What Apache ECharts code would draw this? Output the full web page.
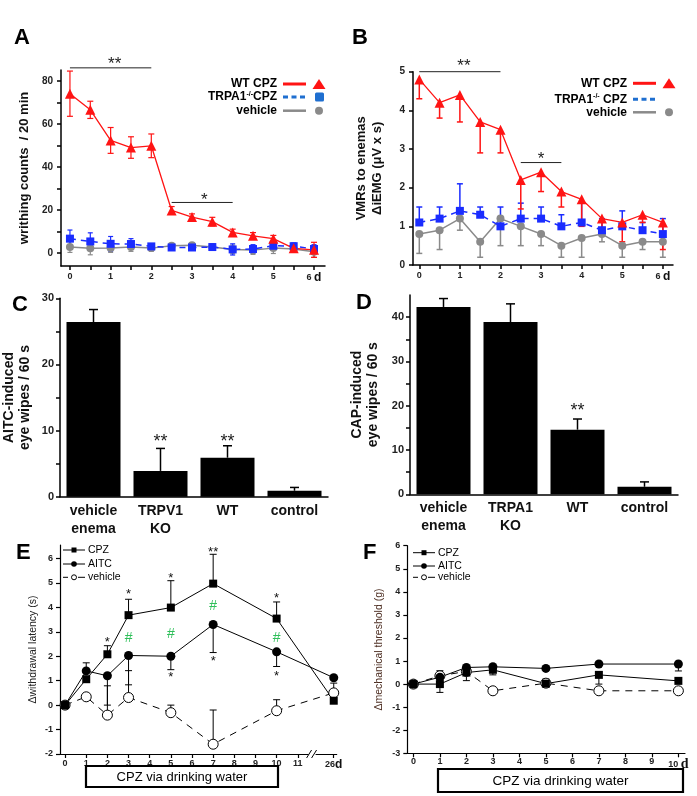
<!DOCTYPE html>
<html><head><meta charset="utf-8">
<script src="https://cdn.jsdelivr.net/npm/echarts@6/dist/echarts.min.js"></script>
<style>html,body{margin:0;padding:0;background:#fff}#c{width:697px;height:796px}</style>
</head><body><div id="c"></div>
<script>
// ---------- DATA ----------
// Panel A: writhing counts / 20 min
const A_days = [0,0.5,1,1.5,2,2.5,3,3.5,4,4.5,5,5.5,6];
const A_wt = [74,66.5,52.3,49,49.8,19.8,16.7,14.6,9.6,8,6.7,2.2,1.5];
const A_wt_err = [10.5,4,6,5,5.5,1.8,1.5,2,1.5,1.5,1.5,1.5,3.5];
const A_trp = [6.7,5.4,4.3,4.2,3.1,2.6,2.6,2.8,1.7,1.9,3.4,3.2,1.9];
const A_trp_err = [4,4,3.4,2.5,1,1,1,1,2.6,2,2,1.5,2];
const A_veh = [2.8,2.2,2.3,2.8,2.3,3.4,3.6,2.8,1.7,1.4,2.3,1.9,0.6];
const A_veh_err = [2.5,3,2,2,1.5,1,1,1,2,2,2.5,1.5,2.5];
const A_yLabels = [0,20,40,60,80];
const A_yTicks = [0,10,20,30,40,50,60,70,80];
const A_xLabels = [0,1,2,3,4,5,6];
const A_sigBars = [[0,2,86],[2.5,4,23.5]];
const A_sigText = [[1.1,89.5,'**'],[3.3,26.3,'*']];

// Panel B: VMRs to enemas
const B_days = [0,0.5,1,1.5,2,2.5,3,3.5,4,4.5,5,5.5,6];
const B_wt = [4.8,4.2,4.4,3.7,3.5,2.2,2.4,1.9,1.7,1.2,1.1,1.3,1.1];
const B_wt_errLo = [0.5,0.4,0.7,0.8,0.6,0.75,0.5,0.4,0.7,0.4,0.5,0.2,0.7];
const B_trp = [1.1,1.2,1.4,1.3,1.0,1.2,1.2,1.0,1.1,0.9,1.0,0.9,0.8];
const B_trp_errHi = [0.4,0.3,0.7,0.2,0.5,0.4,0.3,0.3,0.5,0.3,0.4,0.2,0.4];
const B_veh = [0.8,0.9,1.2,0.6,1.2,1.0,0.8,0.5,0.7,0.8,0.5,0.6,0.6];
const B_veh_errLo = [0.5,0.5,0.3,0.4,0.7,0.5,0.3,0.3,0.5,0.2,0.3,0.2,0.4];
const B_yLabels = [0,1,2,3,4,5];
const B_xLabels = [0,1,2,3,4,5,6];
const B_sigBars = [[0,2,5.0],[2.5,3.5,2.65]];
const B_sigText = [[1.1,5.23,'**'],[3.0,2.84,'*']];

// Panel C: AITC-induced eye wipes
const C_cats = ['vehicle\nenema','TRPV1\nKO','WT','control'];
const C_vals = [26.4,3.9,5.9,0.9];
const C_err = [1.9,3.4,1.8,0.5];
const C_yLabels = [0,10,20,30];
const C_yTicks = [0,5,10,15,20,25,30];
const C_sigText = [[1,8.8,'**'],[2,8.8,'**']];

// Panel D: CAP-induced eye wipes
const D_cats = ['vehicle\nenema','TRPA1\nKO','WT','control'];
const D_vals = [42.3,38.9,14.6,1.7];
const D_err = [1.9,4.1,2.4,1.1];
const D_yLabels = [0,10,20,30,40];
const D_yTicks = [0,5,10,15,20,25,30,35,40];
const D_sigText = [[2,19.7,'**']];

// Panel E: withdrawal latency
const E_days = [0,1,2,3,5,7,10,26];
const E_cpz = [0,1.06,2.08,3.68,3.99,4.97,3.54,0.18];
const E_cpz_errHi = [0,0,0.35,0.65,1.1,1.2,0.68,0];
const E_aitc = [0,1.4,1.2,2.03,2.0,3.3,2.18,1.12];
const E_aitc_errHi = [0,0.33,0,0,0,0,0,0];
const E_aitc_errLo = [0,0,1.2,1.2,0.55,1.15,0.6,0];
const E_veh = [0,0.34,-0.41,0.31,-0.31,-1.6,-0.23,0.5];
const E_veh_errHi = [0,0,1.2,1.1,0.31,1.4,0.45,0.4];
const E_xLabels = [0,1,2,3,4,5,6,7,8,9,10,11,26];
const E_yLabels = [-2,-1,0,1,2,3,4,5,6];
const E_star = [[2,2.68,'*'],[3,4.63,'*'],[5,5.29,'*'],[7,6.38,'**'],[10,4.5,'*'],[5,1.23,'*'],[7,1.91,'*'],[10,1.29,'*']];
const E_hash = [[3,2.86,'#'],[5,3.04,'#'],[7,4.18,'#'],[10,2.86,'#']];

// Panel F: mechanical threshold
const F_days = [0,1,2,3,5,7,10];
const F_cpz = [0,0,0.5,0.62,0.02,0.4,0.14];
const F_cpz_errLo = [0,0.36,0.35,0.22,0,0.4,0];
const F_aitc = [0,0.3,0.72,0.75,0.68,0.87,0.87];
const F_aitc_errLo = [0,0,0,0,0,0,0.3];
const F_veh = [0,0.36,0.55,-0.29,0.04,-0.29,-0.29];
const F_veh_errHi = [0,0.22,0,0,0.18,0,0];
const F_xLabels = [0,1,2,3,4,5,6,7,8,9,10];
const F_yLabels = [-3,-2,-1,0,1,2,3,4,5,6];

// ---------- STYLE ----------
const FONT = '"Liberation Sans", Arial, Helvetica, sans-serif';
const RED = '#ff1414', BLUE = '#1a2cff', LBLUE = '#1f6fd0', GREY = '#8a8a8a', GREEN = '#2fbf5a';
const zeros = a => a.map(() => 0);
// broken axis in E: day 26 drawn at this axis position
const E_brokenPos = 12.7, E_breakAt = 11.7;
const ePos = d => d > 11 ? E_brokenPos : d;

function valAxis(gi, min, max, labels, ticks, o) {
  o = o || {};
  return {
    type: 'value', gridIndex: gi, min, max,
    axisLine: {show: true, onZero: false, lineStyle: {color: '#000', width: o.lw || 1.5}},
    axisTick: {show: true, length: 4, customValues: ticks, lineStyle: {color: '#000', width: o.lw || 1.5}},
    axisLabel: Object.assign({customValues: labels, color: '#222', fontFamily: FONT, fontWeight: 'bold',
      fontSize: o.fs || 10, margin: o.margin || 8}, o.label || {}),
    splitLine: {show: false},
    name: o.name || '', nameLocation: 'middle', nameGap: o.nameGap || 30, nameRotate: 90,
    nameTextStyle: Object.assign({fontFamily: FONT, fontWeight: 'bold', fontSize: 13, color: '#111', lineHeight: 16}, o.nameStyle || {})
  };
}
function catAxis(gi, cats) {
  return {
    type: 'category', gridIndex: gi, data: cats,
    axisLine: {lineStyle: {color: '#000', width: 1.5}},
    axisTick: {alignWithLabel: true, length: 4, lineStyle: {color: '#000', width: 1.5}},
    axisLabel: {color: '#111', fontFamily: FONT, fontWeight: 'bold', fontSize: 14, lineHeight: 18, margin: 5, interval: 0}
  };
}
function lineS(gi, xs, ys, o) {
  return Object.assign({type: 'line', xAxisIndex: gi, yAxisIndex: gi, data: xs.map((x, i) => [x, ys[i]]),
    showSymbol: true, showAllSymbol: true, z: 3, silent: true, animation: false}, o);
}
function errBar(gi, xs, ys, lo, hi, color, cap, w) {
  return {
    type: 'custom', xAxisIndex: gi, yAxisIndex: gi, clip: false, silent: true, z: 2, animation: false,
    data: xs.map((x, i) => [x, ys[i] - lo[i], ys[i] + hi[i], lo[i] > 0 ? 1 : 0, hi[i] > 0 ? 1 : 0]),
    encode: {x: 0, y: [1, 2]},
    renderItem: (p, api) => {
      if (!api.value(3) && !api.value(4)) return null;
      const x = api.value(0);
      const a = api.coord([x, api.value(1)]), b = api.coord([x, api.value(2)]);
      const st = {stroke: color, lineWidth: w};
      const ch = [{type: 'line', shape: {x1: a[0], y1: a[1], x2: b[0], y2: b[1]}, style: st}];
      if (api.value(3)) ch.push({type: 'line', shape: {x1: a[0] - cap / 2, y1: a[1], x2: a[0] + cap / 2, y2: a[1]}, style: st});
      if (api.value(4)) ch.push({type: 'line', shape: {x1: b[0] - cap / 2, y1: b[1], x2: b[0] + cap / 2, y2: b[1]}, style: st});
      return {type: 'group', children: ch};
    }
  };
}
function bracketS(gi, items) {
  return {
    type: 'custom', xAxisIndex: gi, yAxisIndex: gi, clip: false, silent: true, z: 4, animation: false,
    data: items.map(t => [t[0], t[1], t[2]]), encode: {x: [0, 1], y: 2},
    renderItem: (p, api) => {
      const a = api.coord([api.value(0), api.value(2)]), b = api.coord([api.value(1), api.value(2)]);
      return {type: 'line', shape: {x1: a[0], y1: a[1], x2: b[0], y2: b[1]}, style: {stroke: '#222', lineWidth: 1}};
    }
  };
}
function textS(gi, items, color, size, weight) {
  return {
    type: 'custom', xAxisIndex: gi, yAxisIndex: gi, clip: false, silent: true, z: 5, animation: false,
    data: items.map(t => [t[0], t[1]]), encode: {x: 0, y: 1},
    renderItem: (p, api) => {
      const c = api.coord([api.value(0), api.value(1)]);
      return {type: 'text', x: c[0], y: c[1] + size * 0.22,
        style: {text: items[p.dataIndex][2], fill: color, font: `${weight || 'normal'} ${size}px ${FONT}`, align: 'center', verticalAlign: 'middle'}};
    }
  };
}

// ---------- GRAPHICS (labels, legends, boxes) ----------
const g = [];
const T = (x, y, text, font, o) => g.push(Object.assign({type: 'text', x, y, z: 10, style: Object.assign({text, font, fill: '#000'}, o || {})}));
// panel letters
[['A', 14, 27], ['B', 352, 27], ['C', 12, 294], ['D', 356, 292], ['E', 16, 542], ['F', 363, 542]]
  .forEach(t => T(t[1], t[2], t[0], `bold 22px ${FONT}`));
// legend A / B
function legAB(xr, ys, row2) {
  const f = `bold 12px ${FONT}`;
  T(xr, ys[0], 'WT CPZ', f, {align: 'right', verticalAlign: 'middle'});
  g.push({type: 'text', x: xr, y: ys[1], z: 10, style: {text: row2, align: 'right', verticalAlign: 'middle', font: f, fill: '#000',
    rich: {n: {font: f, fill: '#000'}, s: {fontFamily: FONT, fontSize: 7, fontWeight: 'bold', fill: '#000', padding: [0, 0, 6, 0]}}}});
  T(xr, ys[2], 'vehicle', f, {align: 'right', verticalAlign: 'middle'});
  const l0 = xr + 6, l1 = xr + 29, sx = xr + 42;
  g.push({type: 'line', z: 10, shape: {x1: l0, y1: ys[0], x2: l1, y2: ys[0]}, style: {stroke: RED, lineWidth: 3}});
  g.push({type: 'polygon', z: 10, shape: {points: [[sx - 6.5, ys[0] + 5], [sx, ys[0] - 5], [sx + 6.5, ys[0] + 5]]}, style: {fill: RED}});
  g.push({type: 'line', z: 10, shape: {x1: l0, y1: ys[1], x2: l1 + 2, y2: ys[1]}, style: {stroke: LBLUE, lineWidth: 3, lineDash: [5, 3.5]}});
  g.push({type: 'line', z: 10, shape: {x1: l0, y1: ys[2], x2: l1, y2: ys[2]}, style: {stroke: GREY, lineWidth: 2.5}});
  g.push({type: 'circle', z: 10, shape: {cx: sx, cy: ys[2], r: 4}, style: {fill: GREY}});
}
legAB(277, [84, 97, 110.7], '{n|TRPA1}{s|-/-}{n|CPZ}');
g.push({type: 'rect', z: 10, shape: {x: 315, y: 92.5, width: 9, height: 9, r: 1.5}, style: {fill: LBLUE}});
legAB(627, [83.3, 99.3, 112.3], '{n|TRPA1}{s|-/-}{n| CPZ}');
// legend E / F
function legEF(x0, ys) {
  const f = `normal 10.5px ${FONT}`;
  const x1 = x0 + 22, mx = x0 + 11, tx = x0 + 25;
  g.push({type: 'line', z: 10, shape: {x1: x0, y1: ys[0], x2: x1, y2: ys[0]}, style: {stroke: '#000', lineWidth: 1}});
  g.push({type: 'rect', z: 10, shape: {x: mx - 2.5, y: ys[0] - 2.5, width: 5, height: 5}, style: {fill: '#000'}});
  g.push({type: 'line', z: 10, shape: {x1: x0, y1: ys[1], x2: x1, y2: ys[1]}, style: {stroke: '#000', lineWidth: 1}});
  g.push({type: 'circle', z: 10, shape: {cx: mx, cy: ys[1], r: 2.8}, style: {fill: '#000'}});
  g.push({type: 'line', z: 10, shape: {x1: x0, y1: ys[2], x2: x0 + 5, y2: ys[2]}, style: {stroke: '#000', lineWidth: 1}});
  g.push({type: 'line', z: 10, shape: {x1: mx + 4, y1: ys[2], x2: x1, y2: ys[2]}, style: {stroke: '#000', lineWidth: 1}});
  g.push({type: 'circle', z: 10, shape: {cx: mx, cy: ys[2], r: 2.5}, style: {fill: '#fff', stroke: '#000', lineWidth: 1}});
  T(tx, ys[0], 'CPZ', f, {verticalAlign: 'middle'});
  T(tx, ys[1], 'AITC', f, {verticalAlign: 'middle'});
  T(tx, ys[2], 'vehicle', f, {verticalAlign: 'middle'});
}
legEF(63, [550, 564, 577.3]);
legEF(413, [552.7, 566, 577.3]);
// treatment boxes
g.push({type: 'rect', z: 10, shape: {x: 86, y: 766, width: 192, height: 21}, style: {fill: '#fff', stroke: '#000', lineWidth: 2.2}});
T(182, 777, 'CPZ via drinking water', `normal 13px ${FONT}`, {align: 'center', verticalAlign: 'middle'});
g.push({type: 'rect', z: 10, shape: {x: 438, y: 769, width: 245, height: 23}, style: {fill: '#fff', stroke: '#000', lineWidth: 2.2}});
T(560.5, 781, 'CPZ via drinking water', `normal 13.5px ${FONT}`, {align: 'center', verticalAlign: 'middle'});

// ---------- AXES ----------
const dRich = {d: {fontFamily: FONT, fontWeight: 'bold', fontSize: 12, color: '#111'}};
const xAxes = [
  valAxis(0, -0.22, 6.27, A_xLabels, A_days, {fs: 9, margin: 6, label: {formatter: v => v === 6 ? '6 {d|d}' : String(v), rich: dRich}}),
  valAxis(1, -0.155, 6.25, B_xLabels, B_days, {fs: 9, margin: 6, label: {formatter: v => v === 6 ? '6 {d|d}' : String(v), rich: dRich}}),
  catAxis(2, C_cats),
  catAxis(3, D_cats),
  valAxis(4, -0.24, 12.84, E_xLabels.map(ePos), E_xLabels.map(ePos), {fs: 9, margin: 5, lw: 1.2,
    label: {formatter: v => v === E_brokenPos ? '26{d|d}' : String(v), rich: dRich}}),
  valAxis(5, -0.23, 10.25, F_xLabels, F_xLabels, {fs: 9, margin: 4, lw: 1.2,
    label: {formatter: v => v === 10 ? '10 {d|d}' : String(v),
      rich: {d: {fontFamily: '"Liberation Serif", "DejaVu Serif", serif', fontWeight: 'bold', fontSize: 14, color: '#111'}}}})
];
const yAxes = [
  valAxis(0, -6, 85, A_yLabels, A_yTicks, {name: 'writhing counts  / 20 min', nameGap: 29}),
  valAxis(1, 0, 5, B_yLabels, B_yLabels, {name: 'VMRs to enemas\nΔiEMG (μV x s)', nameGap: 28}),
  valAxis(2, 0, 30, C_yLabels, C_yTicks, {fs: 11, margin: 6, name: 'AITC-induced\neye wipes / 60 s', nameGap: 27, nameStyle: {fontSize: 14, lineHeight: 16}}),
  valAxis(3, 0, 45, D_yLabels, D_yTicks, {fs: 11, margin: 6, name: 'CAP-induced\neye wipes / 60 s', nameGap: 29, nameStyle: {fontSize: 14, lineHeight: 16}}),
  valAxis(4, -2, 6.55, E_yLabels, E_yLabels, {fs: 9, margin: 7, lw: 1.2, name: 'Δwithdrawal latency (s)', nameGap: 13,
    nameStyle: {fontWeight: 'normal', fontSize: 10.5, color: '#222'}}),
  valAxis(5, -3, 6, F_yLabels, F_yLabels, {fs: 9, margin: 7, lw: 1.2, name: 'Δmechanical threshold (g)', nameGap: 20,
    nameStyle: {fontWeight: 'normal', fontSize: 10.5, color: '#4d2e22'}})
];

// ---------- SERIES ----------
const S = [];
// A
S.push(errBar(0, A_days, A_veh, A_veh_err, A_veh_err, GREY, 5, 1.2));
S.push(lineS(0, A_days, A_veh, {symbol: 'circle', symbolSize: 8, itemStyle: {color: GREY}, lineStyle: {color: GREY, width: 1.5}}));
S.push(errBar(0, A_days, A_trp, A_trp_err, A_trp_err, BLUE, 5, 1.2));
S.push(lineS(0, A_days, A_trp, {symbol: 'rect', symbolSize: 8, itemStyle: {color: BLUE}, lineStyle: {color: BLUE, width: 1.5, type: [6, 5]}}));
S.push(errBar(0, A_days, A_wt, A_wt_err, A_wt_err, RED, 6, 1.2));
S.push(lineS(0, A_days, A_wt, {symbol: 'triangle', symbolSize: 10, itemStyle: {color: RED}, lineStyle: {color: RED, width: 1.3}}));
S.push(bracketS(0, A_sigBars));
S.push(textS(0, A_sigText, '#222', 17));
// B
S.push(errBar(1, B_days, B_veh, B_veh_errLo, zeros(B_veh), GREY, 6, 1.5));
S.push(lineS(1, B_days, B_veh, {symbol: 'circle', symbolSize: 8, itemStyle: {color: GREY}, lineStyle: {color: GREY, width: 1.5}}));
S.push(errBar(1, B_days, B_trp, zeros(B_trp), B_trp_errHi, BLUE, 6, 1.5));
S.push(lineS(1, B_days, B_trp, {symbol: 'rect', symbolSize: 8, itemStyle: {color: BLUE}, lineStyle: {color: BLUE, width: 1.5, type: [6, 5]}}));
S.push(errBar(1, B_days, B_wt, B_wt_errLo, zeros(B_wt), RED, 6, 1.5));
S.push(lineS(1, B_days, B_wt, {symbol: 'triangle', symbolSize: 10, itemStyle: {color: RED}, lineStyle: {color: RED, width: 1.3}}));
S.push(bracketS(1, B_sigBars));
S.push(textS(1, B_sigText, '#222', 17));
// C
S.push({type: 'bar', xAxisIndex: 2, yAxisIndex: 2, data: C_vals, barWidth: 54, itemStyle: {color: '#000'}, silent: true, animation: false});
S.push(errBar(2, C_vals.map((v, i) => i), C_vals, zeros(C_vals), C_err, '#000', 9, 1.5));
S.push(textS(2, C_sigText, '#222', 18));
// D
S.push({type: 'bar', xAxisIndex: 3, yAxisIndex: 3, data: D_vals, barWidth: 54, itemStyle: {color: '#000'}, silent: true, animation: false});
S.push(errBar(3, D_vals.map((v, i) => i), D_vals, zeros(D_vals), D_err, '#000', 9, 1.5));
S.push(textS(3, D_sigText, '#222', 18));
// E
const ex = E_days.map(ePos);
S.push(errBar(4, ex, E_veh, zeros(E_veh), E_veh_errHi, '#000', 7, 1));
S.push(errBar(4, ex, E_aitc, E_aitc_errLo, E_aitc_errHi, '#000', 7, 1));
S.push(errBar(4, ex, E_cpz, zeros(E_cpz), E_cpz_errHi, '#000', 7, 1));
S.push(lineS(4, ex, E_veh, {symbol: 'circle', symbolSize: 10, itemStyle: {color: '#fff', borderColor: '#000', borderWidth: 1}, lineStyle: {color: '#000', width: 1, type: [7, 6]}}));
S.push(lineS(4, ex, E_aitc, {symbol: 'circle', symbolSize: 9, itemStyle: {color: '#000'}, lineStyle: {color: '#000', width: 1}}));
S.push(lineS(4, ex, E_cpz, {symbol: 'rect', symbolSize: 8, itemStyle: {color: '#000'}, lineStyle: {color: '#000', width: 1}}));
S.push(textS(4, E_star, '#111', 13));
S.push(textS(4, E_hash, GREEN, 14));
// axis break marker on E
S.push({type: 'custom', xAxisIndex: 4, yAxisIndex: 4, clip: false, silent: true, z: 6, animation: false,
  data: [[E_breakAt, -2]], encode: {x: 0, y: 1},
  renderItem: (p, api) => {
    const c = api.coord([api.value(0), api.value(1)]);
    const st = {stroke: '#000', lineWidth: 1};
    return {type: 'group', children: [
      {type: 'rect', shape: {x: c[0] - 4, y: c[1] - 2, width: 7, height: 4}, style: {fill: '#fff'}},
      {type: 'line', shape: {x1: c[0] - 6, y1: c[1] + 4, x2: c[0] - 1, y2: c[1] - 4}, style: st},
      {type: 'line', shape: {x1: c[0] - 1, y1: c[1] + 4, x2: c[0] + 4, y2: c[1] - 4}, style: st}
    ]};
  }});
// F
S.push(errBar(5, F_days, F_veh, zeros(F_veh), F_veh_errHi, '#000', 7, 1));
S.push(errBar(5, F_days, F_aitc, F_aitc_errLo, zeros(F_aitc), '#000', 7, 1));
S.push(errBar(5, F_days, F_cpz, F_cpz_errLo, zeros(F_cpz), '#000', 7, 1));
S.push(lineS(5, F_days, F_veh, {symbol: 'circle', symbolSize: 10, itemStyle: {color: '#fff', borderColor: '#000', borderWidth: 1}, lineStyle: {color: '#000', width: 1, type: [7, 6]}}));
S.push(lineS(5, F_days, F_aitc, {symbol: 'circle', symbolSize: 9, itemStyle: {color: '#000'}, lineStyle: {color: '#000', width: 1}}));
S.push(lineS(5, F_days, F_cpz, {symbol: 'rect', symbolSize: 8, itemStyle: {color: '#000'}, lineStyle: {color: '#000', width: 1}}));

const chart = echarts.init(document.getElementById('c'), null, {renderer: 'canvas'});
chart.setOption({
  animation: false,
  backgroundColor: '#fff',
  grid: [
    {left: 61, top: 70, width: 264, height: 196},
    {left: 413, top: 71.7, width: 260, height: 193.3},
    {left: 59, top: 298.3, width: 269, height: 198.4},
    {left: 410, top: 295, width: 268, height: 199.3},
    {left: 60, top: 545, width: 276.7, height: 209},
    {left: 407.3, top: 545.7, width: 277.7, height: 207.6}
  ],
  xAxis: xAxes,
  yAxis: yAxes,
  series: S,
  graphic: g
});
</script></body></html>
